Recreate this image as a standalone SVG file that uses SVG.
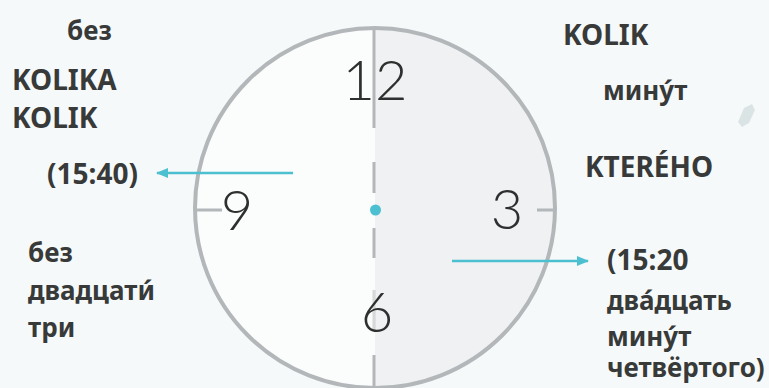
<svg xmlns="http://www.w3.org/2000/svg" width="769" height="388" viewBox="0 0 769 388">
<defs>
<style>
.t{font-family:"Noto Sans","Open Sans","DejaVu Sans",sans-serif;font-weight:700;fill:#383a3a;font-size:26px}
.c{font-size:28px}
.d{font-family:Lato,"Liberation Sans",sans-serif;font-weight:300;fill:#2e3030;font-size:56px;text-anchor:middle}
.rim{fill:none;stroke:#b3b7b9;stroke-width:4}
.ax{stroke:#b3b7b9;stroke-width:3;fill:none}
.arr{stroke:#4cc0d0;stroke-width:2.5;fill:none}
</style>
<marker id="ah" viewBox="0 0 12 10" refX="11" refY="5" markerWidth="12" markerHeight="10" markerUnits="userSpaceOnUse" orient="auto">
<path d="M0,0 L12,5 L0,10 Z" fill="#4cc0d0"/>
</marker>
</defs>
<rect width="769" height="388" fill="#f6f9f9"/>
<g id="clock">
<circle cx="375" cy="208" r="180" fill="#fbfcfc"/>
<path d="M375,28 A180,180 0 0 1 375,388 Z" fill="#eff1f2"/>
<circle cx="375" cy="208" r="180" class="rim"/>
<path class="ax" d="M374,27 V128 M374,162 V193 M374,228 V258 M374,355 V388 M195,210 H222 M537,210 H556"/>
<path d="M374,290 V330" stroke="#b3b7b9" stroke-width="3" opacity="0.5"/>
<circle cx="375.5" cy="210" r="5.5" fill="#4cc0d0"/>
<text class="d" x="375" y="100">12</text>
<text class="d" x="237" y="230">9</text>
<text class="d" x="507" y="229">3</text>
<text class="d" x="377" y="332">6</text>
</g>
<g id="connectors">
<line class="arr" x1="293" y1="173" x2="157" y2="173" marker-end="url(#ah)"/>
<line class="arr" x1="452" y1="261" x2="588" y2="261" marker-end="url(#ah)"/>
</g>
<g id="left-labels">
<text class="t" x="67" y="40">без</text>
<text class="t c" x="12" y="90">KOLIKA</text>
<text class="t c" x="12" y="128">KOLIK</text>
<text class="t c" x="47" y="184">(15:40)</text>
<text class="t" x="28" y="262">без</text>
<text class="t" x="28" y="300">двадцати́</text>
<text class="t" x="28" y="337">три</text>
</g>
<g id="right-labels">
<text class="t c" x="563" y="45">KOLIK</text>
<text class="t" x="603" y="100">мину́т</text>
<text class="t c" x="585" y="177">KTERÉHO</text>
<text class="t c" x="607" y="270">(15:20</text>
<text class="t" x="607" y="310">два́дцать</text>
<text class="t" x="607" y="346">мину́т</text>
<text class="t" x="607" y="377">четвёртого)</text>
</g>
<path d="M738,122 L744,108 L752,104 L755,110 L749,123 L742,127 Z" fill="#cfdcdc" opacity="0.7"/>
</svg>
